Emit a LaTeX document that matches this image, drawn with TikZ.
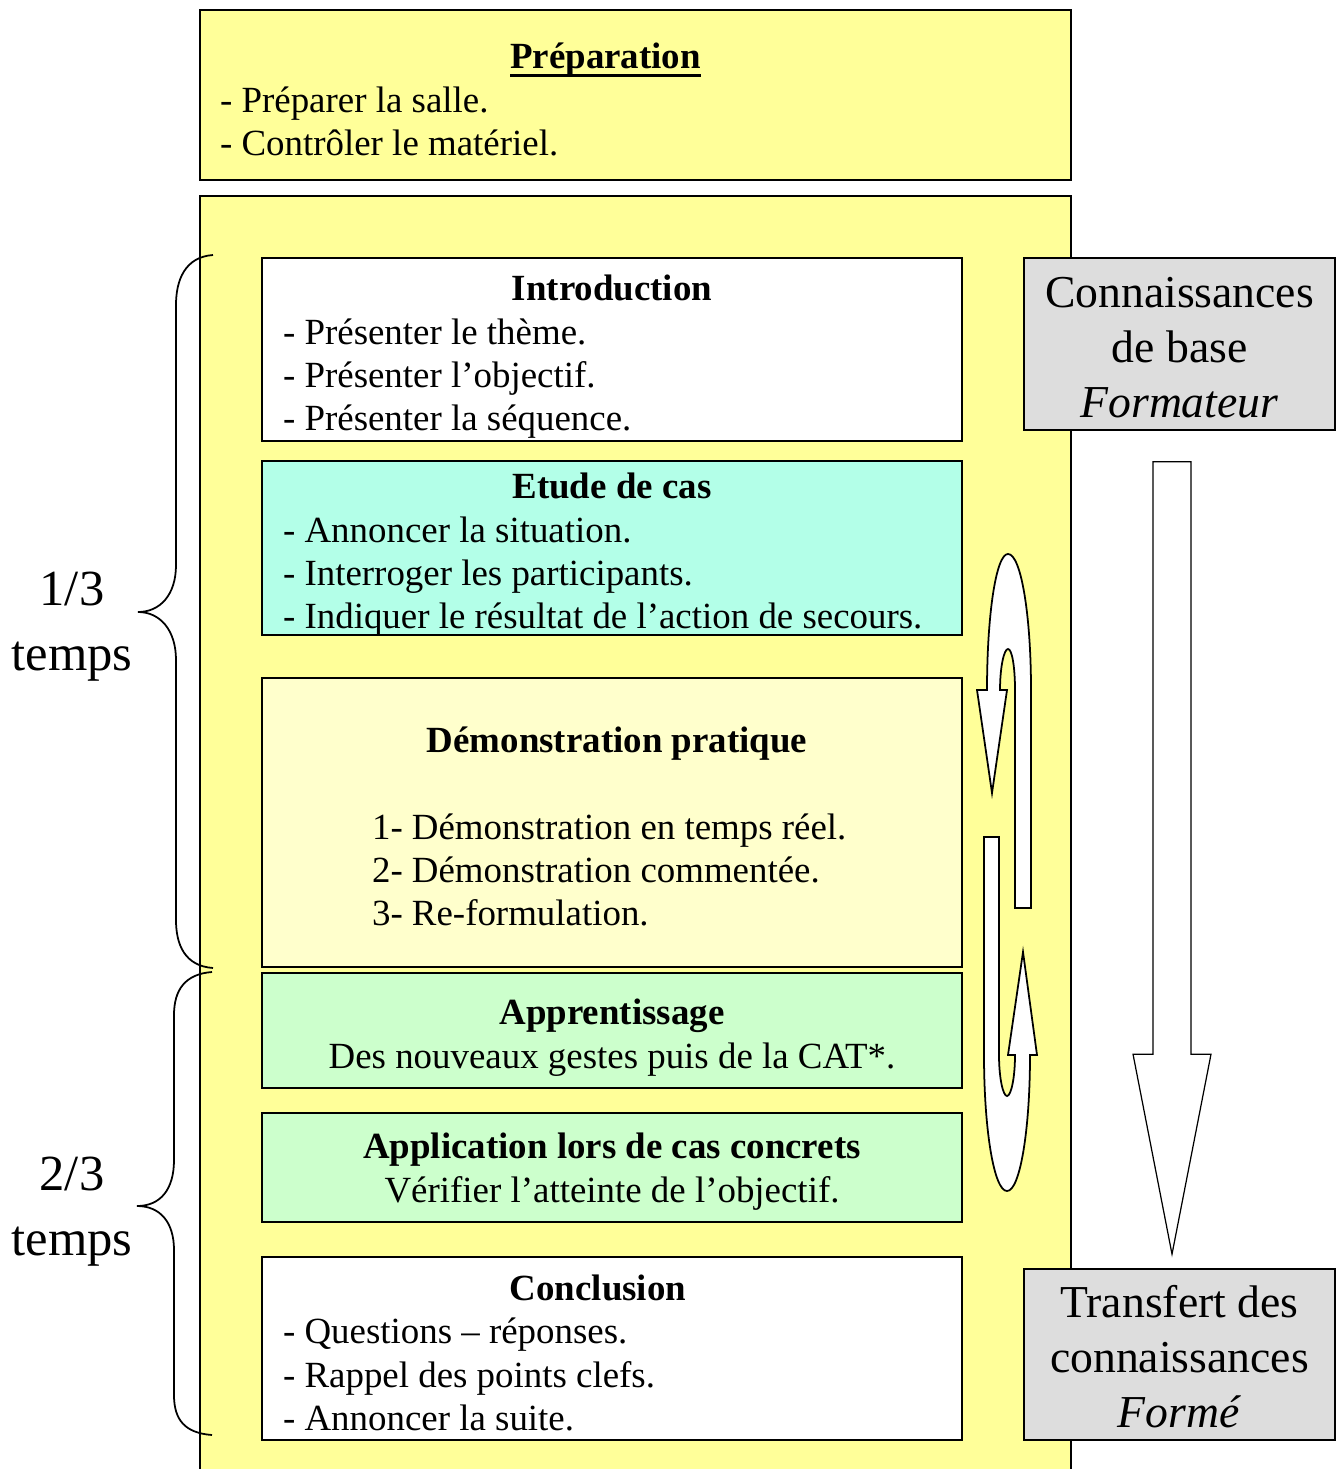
\documentclass[tikz,border=0pt]{standalone}
\usepackage{fontspec}
\setmainfont{Liberation Serif}
\usetikzlibrary{positioning,calc}
\definecolor{paleyellow}{HTML}{FFFF99}
\definecolor{creamy}{HTML}{FFFFCC}
\definecolor{aqua}{HTML}{B3FFE8}
\definecolor{mint}{HTML}{CCFFCC}
\definecolor{greybox}{HTML}{DDDDDD}
\newcommand\thickul[1]{\setbox0\hbox{#1}\rlap{\rule[-4.5pt]{\wd0}{1.5pt}}\box0}
\newcommand\dropby[1]{\par\vspace*{-#1}}
\newcommand\tightspace{\spaceskip=0.25em\relax\xspaceskip=0.25em\relax}

\begin{document}
\begin{tikzpicture}[x=0.02cm, y=-0.02cm,
    stage/.style={draw, line width=1pt, minimum width=14cm, text width=13.16cm, inner xsep=0.42cm, inner ysep=0pt, align=left, font=\fontsize{21}{24.7}\selectfont, execute at begin node=\tightspace},
    lower/.style={execute at end node={\dropby{#1}}},
    result/.style={draw, line width=1pt, fill=greybox, minimum width=6.22cm, text width=6cm, inner xsep=0.11cm, align=center, font=\fontsize{26}{31.3}\selectfont, execute at begin node=\tightspace},
    share/.style={align=center, font=\fontsize{28.8}{37}\selectfont},
    uturn/.style={draw, fill=white, line width=1pt, line join=miter},
]
\useasboundingbox (0,0) rectangle (1340,1469);

% Session frame
\fill[paleyellow] (200,196) rectangle (1071,1480);
\draw[line width=1pt] (200,1480) -- (200,196) -- (1071,196) -- (1071,1480);

% Preparation
\node[stage, lower=0.18cm, fill=paleyellow, minimum width=17.42cm, text width=16.62cm, inner xsep=0.4cm, minimum height=3.4cm] (prep) at (635.5,95)
    {\hbox to\hsize{\hss\textbf{\thickul{Préparation}}\hskip1.2cm\hss}\\
     - Préparer la salle.\\
     - Contrôler le matériel.};

% Steps of the session
\node[stage, lower=0.3cm, fill=white, minimum height=3.66cm] (intro) at (612,349.5)
    {\hbox to\hsize{\hss\textbf{Introduction}\hss}\\
     - Présenter le thème.\\
     - Présenter l’objectif.\\
     - Présenter la séquence.};
\node[stage, lower=0.28cm, fill=aqua, minimum height=3.48cm] (etude) at (612,548)
    {\hbox to\hsize{\hss\textbf{Etude de cas}\hss}\\
     - Annoncer la situation.\\
     - Interroger les participants.\\
     - Indiquer le résultat de l’action de secours.};
\node[stage, lower=0.16cm, fill=creamy, minimum height=5.78cm] (demo) at (612,822.5)
    {\hbox to\hsize{\hss\textbf{Démonstration pratique}\hskip-0.2cm\hss}\\[24.7pt]
     \hspace*{1.78cm}1- Démonstration en temps réel.\\
     \hspace*{1.78cm}2- Démonstration commentée.\\
     \hspace*{1.78cm}3- Re-formulation.};
\node[stage, lower=0.28cm, fill=mint, align=center, minimum height=2.3cm] (appr) at (612,1030.5)
    {\textbf{Apprentissage}\\
     Des nouveaux gestes puis de la CAT*.};
\node[stage, lower=0.16cm, fill=mint, align=center, minimum height=2.18cm] (appl) at (612,1167.5)
    {\textbf{Application lors de cas concrets}\\
     Vérifier l’atteinte de l’objectif.};
\node[stage, lower=0.18cm, fill=white, minimum height=3.66cm] (concl) at (612,1348.5)
    {\hbox to\hsize{\hss\textbf{Conclusion}\hskip0.56cm\hss}\\
     - Questions – réponses.\\
     - Rappel des points clefs.\\
     - Annoncer la suite.};

% Knowledge boxes
\node[result, lower=0.14cm, minimum height=3.44cm] (conn) at (1179.5,344)
    {Connaissances\\ de base\\ \textit{Formateur}};
\node[result, lower=0.1cm, minimum height=3.42cm] (transf) at (1179.5,1354.5)
    {Transfert des\\ connaissances\\ \textit{Formé}};

% Transfer arrow
\coordinate (ftop) at ($(conn.south)+(-7.5,31)$);
\coordinate (fbot) at ($(transf.north)+(-7.5,-14)$);
\draw[fill=white, line width=0.7pt] ($(ftop)+(-19,0)$) -- ($(ftop)+(19,0)$)
    -- ($(fbot)+(19,-200)$) -- ($(fbot)+(39,-200)$) -- (fbot)
    -- ($(fbot)+(-39,-200)$) -- ($(fbot)+(-19,-200)$) -- cycle;

% Loop arrows
\draw[uturn] (1015,908) -- (1031,908) -- (1031,690)
    .. controls (1031,615) and (1021,554) .. (1008,554)
    .. controls (996,554) and (987,615) .. (987,690)
    -- (977,690) -- (992,793) -- (1007,690) -- (1000,690)
    .. controls (1000,667) and (1004,649) .. (1008,649)
    .. controls (1012,649) and (1015,667) .. (1015,690) -- cycle;
\draw[uturn] (984,837) -- (999,837) -- (999,1055)
    .. controls (999,1078) and (1003,1096) .. (1007,1096)
    .. controls (1011,1096) and (1015,1078) .. (1015,1055)
    -- (1008,1055) -- (1023,952) -- (1037,1055) -- (1030,1055)
    .. controls (1030,1130) and (1020,1191) .. (1007,1191)
    .. controls (994,1191) and (984,1130) .. (984,1055) -- cycle;

% Time shares
\draw[line width=1pt] (213,255) .. controls (185,257) and (176,280) .. (176,305)
    -- (176,565) .. controls (176,595) and (160,612) .. (138,612)
    .. controls (160,612) and (176,630) .. (176,660)
    -- (176,920) .. controls (176,945) and (185,966) .. (213,968);
\draw[line width=1pt] (212,972) .. controls (185,974) and (174,990) .. (174,1015)
    -- (174,1160) .. controls (174,1190) and (160,1206) .. (137,1206)
    .. controls (160,1206) and (174,1222) .. (174,1250)
    -- (174,1395) .. controls (174,1420) and (185,1433) .. (212,1435);
\node[share] (first) at (72,627) {1/3\\ temps};
\node[share] (second) at (72,1212) {2/3\\ temps};
\end{tikzpicture}
\end{document}
